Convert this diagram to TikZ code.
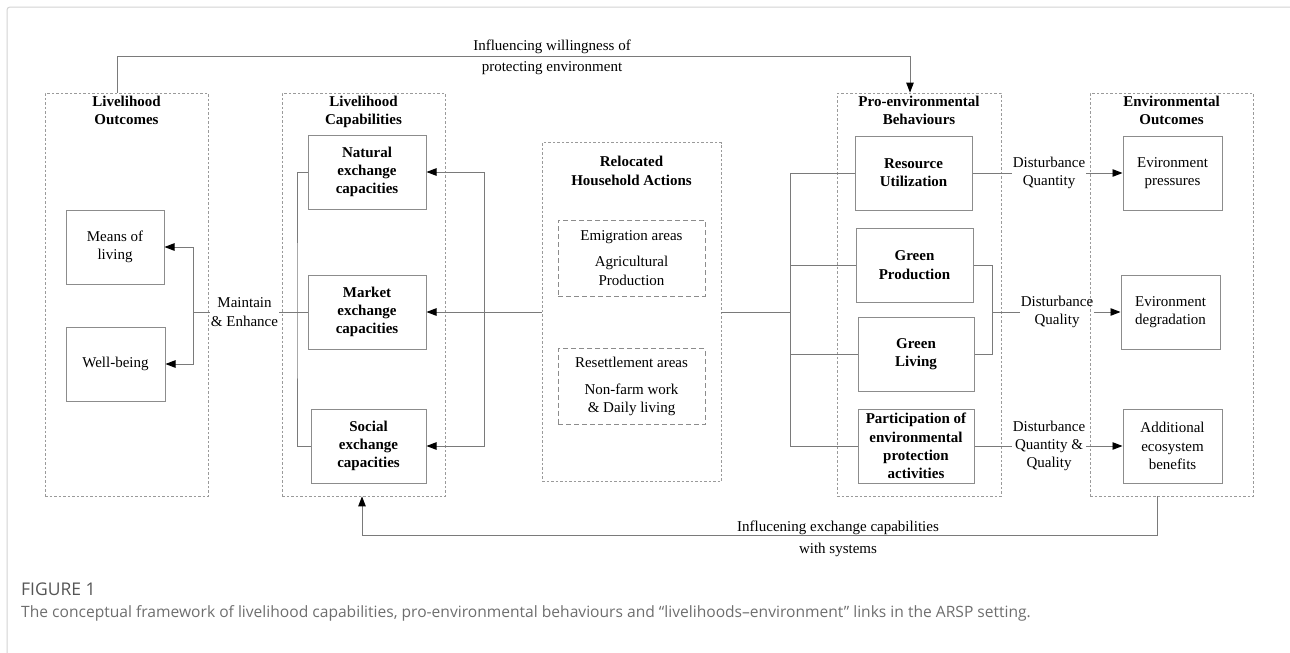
\documentclass[tikz,border=0pt]{standalone}
\usepackage{fontspec}
\setmainfont{Liberation Serif}
\setsansfont{Open Sans}
\usetikzlibrary{arrows.meta,positioning}
\definecolor{boxgray}{HTML}{8C8C8C}
\definecolor{linegray}{HTML}{7A7A7A}
\definecolor{dashgray}{HTML}{9A9A9A}
\definecolor{capgray}{HTML}{6E6E6E}
\definecolor{figgray}{HTML}{555555}
\definecolor{framegray}{HTML}{D2D2D2}
\newcommand{\dgfont}{\fontsize{15pt}{18.3pt}\selectfont}

\begin{document}
\begin{tikzpicture}[x=1pt, y=-1pt,
    panel/.style={rectangle, draw=dashgray, dash pattern=on 2.5pt off 2pt,
                  line width=0.8pt, minimum width=163pt, minimum height=403pt,
                  inner sep=0pt},
    grptitle/.style={font=\dgfont\bfseries, align=center, inner sep=0pt},
    entry/.style={rectangle, draw=boxgray, line width=1pt, minimum width=118pt,
                  minimum height=74pt, inner sep=2pt, font=\dgfont, align=center},
    bentry/.style={entry, font=\dgfont\bfseries},
    zone/.style={rectangle, draw=boxgray, dash pattern=on 5pt off 3pt,
                 line width=1pt, minimum width=147pt, minimum height=76pt,
                 font=\dgfont, align=center},
    lbl/.style={font=\dgfont, align=center, inner sep=1pt},
    conn/.style={draw=linegray, line width=0.9pt},
    arrow/.style={conn, -{Triangle[length=10pt, width=7.5pt, color=black]}},
    captxt/.style={anchor=west, inner sep=0pt}
]
    \useasboundingbox (0,0) rectangle (1290,653);
    \draw[framegray, line width=1pt, rounded corners=3pt] (1290,7) -- (7,7) -- (7,653);

    % Livelihood outcomes
    \node[panel] (LO) at (126.5,294.5) {};
    \node[grptitle, below=3pt of LO.north] (LOt) {Livelihood\\Outcomes};
    \node[entry, minimum width=98pt] (MoL) at (115,247) {Means of\\living};
    \node[entry, minimum width=99pt] (WB) at (115.5,364) {Well-being};

    % Livelihood capabilities
    \node[panel] (LC) at (363.5,294.5) {};
    \node[grptitle, below=3pt of LC.north] (LCt) {Livelihood\\Capabilities};
    \node[bentry] (NEC) at (367,172) {Natural\\exchange\\capacities};
    \node[bentry] (MEC) at (367,312) {Market\\exchange\\capacities};
    \node[bentry, minimum width=115pt] (SEC) at (368.5,446) {Social\\exchange\\capacities};

    % Relocated household actions
    \node[panel, minimum width=179pt, minimum height=339pt] (RH) at (631.5,312) {};
    \node[grptitle, below=14pt of RH.north] (RHt) {Relocated\\Household Actions};
    \node[zone] (EA) at (631.5,258) {Emigration areas\\[8pt]Agricultural\\Production};
    \node[zone] (RA) at (631.5,386.5) {Resettlement areas\\[8pt]Non-farm work\\\& Daily living};

    % Pro-environmental behaviours
    \node[panel, minimum width=164pt] (PB) at (919,294.5) {};
    \node[grptitle, below=3pt of PB.north] (PBt) {Pro-environmental\\Behaviours};
    \node[bentry, minimum width=117pt] (RU) at (913.5,173) {Resource\\Utilization};
    \node[bentry, minimum width=117pt] (GP) at (914.5,265) {Green\\Production};
    \node[bentry, minimum width=116pt] (GL) at (916,354) {Green\\Living};
    \node[bentry, minimum width=116pt] (PEP) at (916,446) {Participation of\\environmental\\protection\\activities};

    % Environmental outcomes
    \node[panel] (EO) at (1171.5,294.5) {};
    \node[grptitle, below=3pt of EO.north] (EOt) {Environmental\\Outcomes};
    \node[entry, minimum width=99pt] (EP) at (1172.5,173) {Evironment\\pressures};
    \node[entry, minimum width=99pt] (ED) at (1170.5,312) {Evironment\\degradation};
    \node[entry, minimum width=99pt] (AEB) at (1172.5,446) {Additional\\ecosystem\\benefits};

    % Link labels
    \node[lbl] (ME) at (244.5,312) {Maintain\\\& Enhance};
    \node[lbl] (DQn) at (1049,173) {Disturbance\\Quantity};
    \node[lbl] (DQl) at (1057,312) {Disturbance\\Quality};
    \node[lbl] (DQQ) at (1049,446) {Disturbance\\Quantity \&\\Quality};
    \node[lbl] (WIL1) at (552,47) {Influencing willingness of};
    \node[lbl] (WIL2) at (552,68) {protecting environment};
    \node[lbl] (EXC1) at (838,528) {Influcening exchange capabilities};
    \node[lbl] (EXC2) at (838,550) {with systems};

    % Feedback loops
    \coordinate (wilR) at (910,56);
    \draw[arrow] ([xshift=-9.5pt]LO.north) |- (wilR) -- (wilR |- PB.north);
    \coordinate (excL) at (362,535);
    \draw[arrow] ([xshift=-14.5pt]EO.south) |- (excL) -- (excL |- LC.south);

    % Capabilities to outcomes
    \coordinate (outB) at (193,312);
    \coordinate (capB) at (297,312);
    \draw[conn] (MEC.west) -- (ME.east);
    \draw[arrow] (ME.west) -- (outB) |- (MoL.east);
    \draw[arrow] (outB) |- (WB.east);
    \draw[conn] (NEC.west) -| (capB) |- (SEC.west);

    % Actions to capabilities
    \coordinate (relB) at (484,312);
    \draw[arrow] (RH.west) -- (MEC.east);
    \draw[arrow] (relB) |- (NEC.east);
    \draw[arrow] (relB) |- (SEC.east);

    % Actions to behaviours
    \coordinate (behB) at (790,312);
    \draw[conn] (RH.east) -- (behB);
    \draw[conn] (RU.west) -| (behB) |- (PEP.west);
    \draw[conn] (behB |- GP.west) -- (GP.west);
    \draw[conn] (behB |- GL.west) -- (GL.west);

    % Behaviours to environment
    \draw[conn] (RU.east) -- (DQn.west);
    \draw[arrow] (DQn.east) -- (EP.west);
    \coordinate (grnB) at (992,312);
    \draw[conn] (GP.east) -| (grnB) |- (GL.east);
    \draw[conn] (grnB) -- (DQl.west);
    \draw[arrow] (DQl.east) -- (ED.west);
    \draw[conn] (PEP.east) -- (DQQ.west);
    \draw[arrow] (DQQ.east) -- (AEB.west);

    % Caption
    \node[captxt, text=figgray, font=\sffamily\fontsize{17.5pt}{20pt}\selectfont] (FIG) at (21,589) {FIGURE 1};
    \node[captxt, text=capgray, font=\sffamily\fontsize{15.6pt}{18pt}\selectfont] (CAP) at (21,613) {The conceptual framework of livelihood capabilities, pro-environmental behaviours and “livelihoods–environment” links in the ARSP setting.};
\end{tikzpicture}
\end{document}
